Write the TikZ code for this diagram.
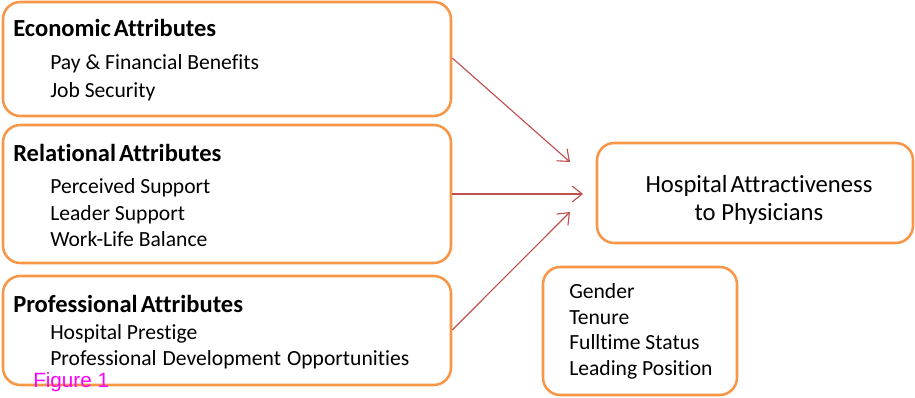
\documentclass[tikz,border=0pt]{standalone}
\usepackage{fontspec}
\setmainfont[Ligatures=CommonOff]{Carlito}
\newfontfamily\figfont{Liberation Sans}
\usetikzlibrary{arrows.meta,fit}
\definecolor{boxorange}{RGB}{247,150,70}
\definecolor{arrowred}{RGB}{192,80,77}
\definecolor{figmagenta}{RGB}{255,0,255}
\begin{document}
\begin{tikzpicture}[x=0.75pt,y=-0.75pt,
  box/.style={draw=boxorange,line width=1.9pt,rounded corners=13pt,inner sep=0pt},
  head/.style={anchor=base west,inner sep=0pt,font=\fontsize{18.4}{21}\selectfont\bfseries},
  item/.style={anchor=base west,inner sep=0pt,font=\fontsize{16.2}{19}\selectfont},
  link/.style={draw=arrowred,line width=0.85pt,-{Straight Barb[length=7.5pt,width=12pt,line width=0.85pt]}}]
\useasboundingbox (0,0) rectangle (915,398);
% attribute groups
\node (econ) [box,fit={(3,2) (451,116)}] {};
\node (rel)  [box,fit={(3,125) (451,263)}] {};
\node (prof) [box,fit={(3,276) (451,385)}] {};
% outcome and controls
\node (target) [box,fit={(597,143) (913,243)}] {};
\node (ctrl)   [box,fit={(543,267) (737,395)}] {};
% group contents
\node (econT) [head] at (13,37) {Economic\hspace{-0.1em} Attributes};
\node (econA) [item] at (50,70) {Pay \& Financial Benefits};
\node (econB) [item] at (50,98) {Job Security};
\node (relT) [head] at (13,162) {Relational\hspace{-0.1em} Attributes};
\node (relA) [item] at (50,194) {Perceived Support};
\node (relB) [item] at (50,221) {Leader Support};
\node (relC) [item] at (50,247) {Work-Life Balance};
\node (profT) [head] at (13,313) {Professional\hspace{-0.1em} Attributes};
\node (profA) [item] at (50,340) {Hospital Prestige};
\node (profB) [item] at (50,366) {Professional\hspace{0.28em}Development\hspace{0.28em}Opportunities};
% outcome text
\node (targetT) [anchor=base,inner sep=0pt,font=\fontsize{18.5}{21}\selectfont] at (759,193) {Hospital\hspace{-0.1em} Attractiveness};
\node (targetB) [anchor=base,inner sep=0pt,font=\fontsize{18.5}{21}\selectfont] at (759,221) {to Physicians};
% control variables
\node (ctrlA) [item] at (569,299) {Gender};
\node (ctrlB) [item] at (569,325) {Tenure};
\node (ctrlC) [item] at (569,350) {Fulltime Status};
\node (ctrlD) [item] at (569,376) {Leading Position};
% caption
\node (fig) [anchor=base west,inner sep=0pt,text=figmagenta,font=\figfont\fontsize{15.5}{18}\selectfont] at (33,388) {Figure 1};
% effects
\coordinate (e1) at (570,162);
\coordinate (e2) at (583,194);
\coordinate (e3) at (570,212);
\draw[link] (econ.east |- 0,58) -- (e1);
\draw[link] (rel.east |- 0,194) -- (e2);
\draw[link] (prof.east |- 0,330) -- (e3);
\end{tikzpicture}
\end{document}
